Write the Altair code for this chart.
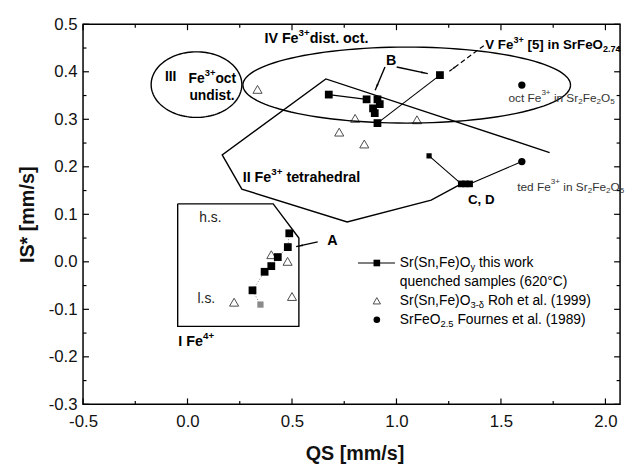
import math
import altair as alt
import pandas as pd

# ---------------- data ----------------
# Sr(Sn,Fe)Oy this work, quenched samples
sq_qs = [0.676, 0.857, 0.909, 0.920, 0.888, 0.896, 0.909, 1.208,
         0.487, 0.480, 0.432, 0.401, 0.369, 0.311]
sq_is = [0.352, 0.342, 0.342, 0.332, 0.323, 0.313, 0.292, 0.393,
         0.060, 0.031, 0.010, -0.009, -0.021, -0.060]
small_sq_qs = [1.156]
small_sq_is = [0.223]
cd_qs = [1.31, 1.33, 1.35]
cd_is = [0.164, 0.164, 0.164]
grey_qs = [0.349]
grey_is = [-0.090]
# Sr(Sn,Fe)O3-d Roh et al. (1999)
tri_qs = [0.335, 0.802, 0.726, 0.846, 1.098, 0.401, 0.479, 0.223, 0.500]
tri_is = [0.363, 0.302, 0.273, 0.248, 0.299, 0.015, 0.001, -0.085, -0.073]
# SrFeO2.5 Fournes et al. (1989)
circ_qs = [1.60, 1.60]
circ_is = [0.372, 0.211]

# connecting lines of the series
seg_qs = [[0.676, 0.857], [0.909, 1.208], [1.156, 1.31], [1.35, 1.60]]
seg_is = [[0.352, 0.342], [0.292, 0.393], [0.223, 0.164], [0.164, 0.211]]
dot_qs = [0.487, 0.480, 0.432, 0.401, 0.369, 0.311, 0.349]
dot_is = [0.060, 0.031, 0.010, -0.009, -0.021, -0.060, -0.090]

# region outlines
reg2_qs = [1.733, 0.662, 0.166, 0.260, 0.764, 1.166, 1.31]
reg2_is = [0.230, 0.385, 0.225, 0.153, 0.084, 0.130, 0.164]
reg1_qs = [-0.047, 0.410, 0.533, 0.533, -0.047, -0.047]
reg1_is = [0.122, 0.122, 0.050, -0.136, -0.136, 0.122]
ell_center_qs = [1.049, 0.043]
ell_center_is = [0.372, 0.373]
ell_a = [0.784, 0.217]
ell_b = [0.080, 0.069]

# arrows (start qs, start is, end qs, end is)
arr_x1 = [0.623, 0.945, 1.001, 1.418]
arr_y1 = [0.042, 0.410, 0.410, 0.455]
arr_x2 = [0.520, 0.898, 1.150, 1.253]
arr_y2 = [0.032, 0.361, 0.396, 0.401]
arr_dash = [False, False, False, True]

# axes
x_ticks = [-0.5, 0.0, 0.5, 1.0, 1.5, 2.0]
x_minor = [-0.25, 0.25, 0.75, 1.25, 1.75]
y_ticks = [-0.3, -0.2, -0.1, 0.0, 0.1, 0.2, 0.3, 0.4, 0.5]
y_minor = [-0.25, -0.15, -0.05, 0.05, 0.15, 0.25, 0.35, 0.45]

# ---------------- layout ----------------
W, H = 544, 385
XD = [-0.5, 2.07]
YD = [-0.3, 0.5]
SX = W / (XD[1] - XD[0])
SY = H / (YD[1] - YD[0])
FONT = "Liberation Sans"

RW = {' ': 278, '(': 333, ')': 333, '+': 584, ',': 278, '-': 333, '.': 278, '/': 278,
      '[': 278, ']': 278, '°': 400, 'δ': 556,
      'A': 667, 'B': 667, 'C': 722, 'D': 722, 'E': 667, 'F': 611, 'I': 278, 'O': 778,
      'R': 722, 'S': 667, 'V': 667,
      'a': 556, 'b': 556, 'c': 500, 'd': 556, 'e': 556, 'f': 278, 'h': 556, 'i': 222,
      'k': 500, 'l': 222, 'm': 833, 'n': 556, 'o': 556, 'p': 556, 'q': 556, 'r': 333,
      's': 500, 't': 278, 'u': 556, 'w': 722, 'y': 500}
BW = {' ': 278, '(': 333, ')': 333, '+': 584, ',': 278, '-': 333, '.': 278, '/': 278,
      '[': 333, ']': 333,
      'A': 722, 'B': 722, 'C': 722, 'D': 722, 'F': 611, 'I': 278, 'O': 778, 'S': 667,
      'V': 667,
      'a': 556, 'c': 556, 'd': 611, 'e': 556, 'h': 611, 'i': 278, 'l': 278, 'n': 611,
      'o': 611, 'r': 389, 's': 556, 't': 333, 'u': 611}


def measure(s, size, bold):
    t = BW if bold else RW
    return sum(t.get(c, 556) for c in s) * size / 1000.0


def rich(x0, y0, segs, size, bold, color="black"):
    rows = []
    xpx = 0.0
    for text, kind in segs:
        if kind == "n":
            fs, dy = size, 0.0
        elif kind == "sup":
            fs, dy = size * 0.68, size * 0.42
        else:
            fs, dy = size * 0.68, -size * 0.30
        lead = len(text) - len(text.lstrip(" "))
        xpx += measure(" " * lead, fs, bold)
        body = text.lstrip(" ")
        rows.append(dict(x=x0 + xpx / SX, y=y0 + dy / SY, text=body, size=fs, color=color))
        xpx += measure(body, fs, bold)
    return rows


AX_X = alt.Axis(values=x_ticks, format=".1f",
                labelExpr="replace(datum.label, '\u2212', '-')",
                ticks=False, domain=False, grid=False,
                labelFont=FONT, labelFontSize=17, labelPadding=9,
                labelColor="#111", labelFlush=False,
                title="QS [mm/s]", titleFont=FONT, titleFontSize=20,
                titleFontWeight="bold", titleColor="#111",
                titleX=W / 2 + 3, titleY=50, titleBaseline="middle")
AX_Y = alt.Axis(values=y_ticks, format=".1f",
                labelExpr="replace(datum.label, '\u2212', '-')",
                ticks=False, domain=False, grid=False,
                labelFont=FONT, labelFontSize=17, labelPadding=6,
                labelColor="#111", labelFlush=False,
                title="IS* [mm/s]", titleFont=FONT, titleFontSize=20,
                titleFontWeight="bold", titleColor="#111",
                titleX=-56, titleY=H / 2, titleAngle=270,
                titleBaseline="middle")


def X(field="x"):
    return alt.X(f"{field}:Q", scale=alt.Scale(domain=XD, nice=False, zero=False), axis=AX_X)


def Y(field="y"):
    return alt.Y(f"{field}:Q", scale=alt.Scale(domain=YD, nice=False, zero=False), axis=AX_Y)


layers = []

# tick marks (inward, on all four sides)
for vals, ln in ((x_ticks, 6), (x_minor, 3.5)):
    df = pd.DataFrame({"x": vals})
    layers.append(alt.Chart(df).mark_rule(color="black", strokeWidth=1.2).encode(
        x=X(), y=alt.value(H), y2=alt.value(H - ln)))
    layers.append(alt.Chart(df).mark_rule(color="black", strokeWidth=1.2).encode(
        x=X(), y=alt.value(0), y2=alt.value(ln)))
for vals, ln in ((y_ticks, 6), (y_minor, 3.5)):
    df = pd.DataFrame({"y": vals})
    layers.append(alt.Chart(df).mark_rule(color="black", strokeWidth=1.2).encode(
        y=Y(), x=alt.value(0), x2=alt.value(ln)))
    layers.append(alt.Chart(df).mark_rule(color="black", strokeWidth=1.2).encode(
        y=Y(), x=alt.value(W), x2=alt.value(W - ln)))

# region outlines
rows = []
for g, (qs, iss) in enumerate(((reg2_qs, reg2_is), (reg1_qs, reg1_is))):
    for i, (a, b) in enumerate(zip(qs, iss)):
        rows.append(dict(x=a, y=b, g=g, o=i))
for g in range(2):
    n = 120
    for i in range(n + 1):
        t = 2 * math.pi * i / n
        rows.append(dict(x=ell_center_qs[g] + ell_a[g] * math.cos(t),
                         y=ell_center_is[g] + ell_b[g] * math.sin(t), g=10 + g, o=i))
layers.append(alt.Chart(pd.DataFrame(rows)).mark_line(color="black", strokeWidth=1.4).encode(
    x=X(), y=Y(), detail="g:N", order="o:Q"))

# series connecting lines
rows = []
for g, (qs, iss) in enumerate(zip(seg_qs, seg_is)):
    for i, (a, b) in enumerate(zip(qs, iss)):
        rows.append(dict(x=a, y=b, g=g, o=i))
layers.append(alt.Chart(pd.DataFrame(rows)).mark_line(color="black", strokeWidth=1.1).encode(
    x=X(), y=Y(), detail="g:N", order="o:Q"))
dot_df = pd.DataFrame({"x": dot_qs, "y": dot_is, "o": range(len(dot_qs))})
layers.append(alt.Chart(dot_df).mark_line(color="#777", strokeWidth=0.9, strokeDash=[1, 2]).encode(
    x=X(), y=Y(), order="o:Q"))

# arrows
rows, heads = [], []
for i in range(len(arr_x1)):
    rows.append(dict(x=arr_x1[i], y=arr_y1[i], g=i, o=0, d=arr_dash[i]))
    rows.append(dict(x=arr_x2[i], y=arr_y2[i], g=i, o=1, d=arr_dash[i]))
    dxp = (arr_x2[i] - arr_x1[i]) * SX
    dyp = (arr_y2[i] - arr_y1[i]) * SY
    L = math.hypot(dxp, dyp)
    ux, uy = dxp / L, dyp / L
    ang = math.degrees(math.atan2(dxp, dyp)) % 360
    back = 4.5
    heads.append(dict(x=arr_x2[i] - ux * back / SX, y=arr_y2[i] - uy * back / SY, a=ang))
adf = pd.DataFrame(rows)
layers.append(alt.Chart(adf[~adf.d]).mark_line(color="black", strokeWidth=1.4).encode(
    x=X(), y=Y(), detail="g:N", order="o:Q"))
layers.append(alt.Chart(adf[adf.d]).mark_line(color="black", strokeWidth=1.2, strokeDash=[5, 3]).encode(
    x=X(), y=Y(), detail="g:N", order="o:Q"))
layers.append(alt.Chart(pd.DataFrame(heads)).mark_point(
    shape="M0,-1L0.45,1L-0.45,1Z", filled=True, color="black", size=22, opacity=1).encode(
    x=X(), y=Y(), angle=alt.Angle("a:Q", scale=None)))

# data markers
layers.append(alt.Chart(pd.DataFrame({"x": tri_qs, "y": tri_is})).mark_point(
    shape="triangle-up", filled=False, color="black", size=85, strokeWidth=1).encode(x=X(), y=Y()))
layers.append(alt.Chart(pd.DataFrame({"x": sq_qs, "y": sq_is})).mark_point(
    shape="square", filled=True, color="black", size=62, opacity=1).encode(x=X(), y=Y()))
layers.append(alt.Chart(pd.DataFrame({"x": cd_qs, "y": cd_is})).mark_point(
    shape="square", filled=True, color="black", size=45, opacity=1).encode(x=X(), y=Y()))
layers.append(alt.Chart(pd.DataFrame({"x": small_sq_qs, "y": small_sq_is})).mark_point(
    shape="square", filled=True, color="black", size=28, opacity=1).encode(x=X(), y=Y()))
layers.append(alt.Chart(pd.DataFrame({"x": grey_qs, "y": grey_is})).mark_point(
    shape="square", filled=True, color="#8a8a8a", size=40, opacity=1).encode(x=X(), y=Y()))
layers.append(alt.Chart(pd.DataFrame({"x": circ_qs, "y": circ_is})).mark_point(
    shape="circle", filled=True, color="black", size=55, opacity=1).encode(x=X(), y=Y()))

# legend (drawn inside the plot)
leg_x, leg_x2, leg_sym = 0.816, 0.993, 0.906
leg_y = [-0.0025, -0.043, -0.082, -0.122]
layers.append(alt.Chart(pd.DataFrame({"x": [leg_x], "x2": [leg_x2], "y": [leg_y[0]]})).mark_rule(
    color="black", strokeWidth=1.1).encode(x=X(), x2="x2:Q", y=Y()))
layers.append(alt.Chart(pd.DataFrame({"x": [leg_sym], "y": [leg_y[0]]})).mark_point(
    shape="square", filled=True, color="black", size=45, opacity=1).encode(x=X(), y=Y()))
layers.append(alt.Chart(pd.DataFrame({"x": [leg_sym], "y": [leg_y[2]]})).mark_point(
    shape="triangle-up", filled=False, color="black", size=55, strokeWidth=1).encode(x=X(), y=Y()))
layers.append(alt.Chart(pd.DataFrame({"x": [leg_sym], "y": [leg_y[3]]})).mark_point(
    shape="circle", filled=True, color="black", size=45, opacity=1).encode(x=X(), y=Y()))

# texts
bold_rows = []
bold_rows += rich(0.368, 0.468, [("IV Fe", "n"), ("3+", "sup"), ("dist. oct.", "n")], 14.5, True)
bold_rows += rich(-0.108, 0.389, [("III", "n")], 14, True)
bold_rows += rich(0.005, 0.385, [("Fe", "n"), ("3+", "sup"), ("oct", "n")], 14, True)
bold_rows += rich(0.009, 0.348, [("undist.", "n")], 14, True)
bold_rows += rich(0.264, 0.177, [("II Fe", "n"), ("3+", "sup"), (" tetrahedral", "n")], 14.5, True)
bold_rows += rich(-0.044, -0.168, [("I Fe", "n"), ("4+", "sup")], 14.5, True)
bold_rows += rich(0.669, 0.043, [("A", "n")], 14.5, True)
bold_rows += rich(0.950, 0.4235, [("B", "n")], 14.5, True)
bold_rows += rich(1.342, 0.129, [("C, D", "n")], 13.5, True)
bold_rows += rich(1.425, 0.456, [("V Fe", "n"), ("3+", "sup"), (" [5] in SrFeO", "n"), ("2.74", "sub")], 13.5, True)

norm_rows = []
norm_rows += rich(0.056, 0.092, [("h.s.", "n")], 14, False, "#222")
norm_rows += rich(0.048, -0.079, [("l.s.", "n")], 14, False, "#222")
norm_rows += rich(1.536, 0.344, [("oct Fe", "n"), ("3+", "sup"), (" in Sr", "n"), ("2", "sub"),
                                 ("Fe", "n"), ("2", "sub"), ("O", "n"), ("5", "sub")], 12, False, "#333")
norm_rows += rich(1.578, 0.157, [("ted Fe", "n"), ("3+", "sup"), (" in Sr", "n"), ("2", "sub"),
                                 ("Fe", "n"), ("2", "sub"), ("O", "n"), ("5", "sub")], 12, False, "#333")
lx = 1.016
norm_rows += rich(lx, leg_y[0], [("Sr(Sn,Fe)O", "n"), ("y", "sub"), (" this work", "n")], 14, False)
norm_rows += rich(lx, leg_y[1], [("quenched samples (620°C)", "n")], 14, False)
norm_rows += rich(lx, leg_y[2], [("Sr(Sn,Fe)O", "n"), ("3-δ", "sub"), (" Roh et al. (1999)", "n")], 14, False)
norm_rows += rich(lx, leg_y[3], [("SrFeO", "n"), ("2.5", "sub"), (" Fournes et al. (1989)", "n")], 14, False)

for rws, wt in ((bold_rows, "bold"), (norm_rows, "normal")):
    layers.append(alt.Chart(pd.DataFrame(rws)).mark_text(
        align="left", baseline="middle", font=FONT, fontWeight=wt).encode(
        x=X(), y=Y(), text="text:N",
        size=alt.Size("size:Q", scale=None),
        color=alt.Color("color:N", scale=None)))

chart = alt.layer(*layers).properties(
    width=W, height=H, autosize="none",
    padding={"left": 76, "top": 13.5, "right": 5, "bottom": 62},
    background="white",
).configure_view(stroke="black", strokeWidth=1.5)

chart.save("out.html", embed_options={"renderer": "svg", "actions": False})
